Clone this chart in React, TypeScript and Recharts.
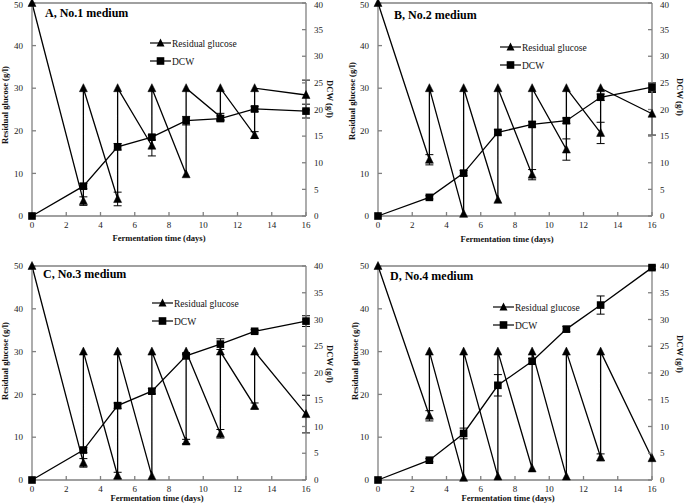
import React from 'react';
import { ComposedChart, Line, XAxis, YAxis, ErrorBar, ReferenceLine, Legend } from 'recharts';

// ---------- data ----------
const dayTicks = [0, 2, 4, 6, 8, 10, 12, 14, 16];
const glucoseTicks = [0, 10, 20, 30, 40, 50];
const dcwTicks = [0, 5, 10, 15, 20, 25, 30, 35, 40];

// glucose is re-fed to 30 g/l at each sampling day (vertical jumps)
const glucoseTimes = [0, 3, 3, 5, 5, 7, 7, 9, 9, 11, 11, 13, 13, 16];
const dcwTimes = [0, 3, 5, 7, 9, 11, 13, 16];

const glucoseA = [50, 3.5, 30, 4, 30, 16.5, 30, 9.8, 30, 23.3, 30, 19, 30, 28.4];
const glucoseErrA = [0, 1, 0, 1.6, 0, 2.4, 0, 0, 0, 0.8, 0, 0.8, 0, 3.5];
const dcwA = [0, 5.6, 13.0, 14.8, 17.9, 18.3, 20.1, 19.7];
const dcwErrA = [0, 0.5, 0.6, 0.5, 0.8, 0.5, 0.5, 1.3];

const glucoseB = [50, 13.2, 30, 0.5, 30, 3.8, 30, 9.7, 30, 15.6, 30, 19.5, 30, 24];
const glucoseErrB = [0, 1.2, 0, 0, 0, 0, 0, 1.2, 0, 2.5, 0, 2.5, 0, 5];
const dcwB = [0, 3.5, 8.05, 15.7, 17.2, 17.9, 22.3, 24.2];
const dcwErrB = [0, 0.3, 0.5, 0.5, 0.5, 0.5, 0.6, 0.8];

const glucoseC = [50, 4, 30, 1, 30, 0.9, 30, 9, 30, 10.8, 30, 17.3, 30, 15.4];
const glucoseErrC = [0, 1, 0, 0.8, 0, 0, 0, 0.5, 0, 1, 0, 0.7, 0, 4.4];
const dcwC = [0, 5.6, 13.9, 16.6, 23.2, 25.4, 27.8, 29.7];
const dcwErrC = [0, 0.5, 0.5, 0.5, 0.5, 1.0, 0.3, 1.0];

const glucoseD = [50, 15, 30, 0.5, 30, 0.8, 30, 2.7, 30, 0.8, 30, 5.3, 30, 5.1];
const glucoseErrD = [0, 1.2, 0, 0, 0, 0, 0, 0, 0, 0, 0, 0.8, 0, 0];
const dcwD = [0, 3.7, 8.7, 17.7, 22.2, 28.2, 32.7, 39.7];
const dcwErrD = [0, 0.3, 1.0, 2.0, 0.5, 0.5, 1.7, 0.3];

const titles = ['A, No.1 medium', 'B, No.2 medium', 'C, No.3 medium', 'D, No.4 medium'];

// ---------- layout ----------
const SERIF = '"Liberation Serif", Tinos, "Times New Roman", Times, "DejaVu Serif", serif';
const AXIS = '#808080';

const panels = [
  { title: titles[0], g: glucoseA, ge: glucoseErrA, d: dcwA, de: dcwErrA,
    left: 0, top: 0, w: 342, h: 250, mt: 3, lw: 32, rw: 36, xh: 34,
    titlePos: [45, 6], legPos: [150, 36],
    yLab: [5, 105], rLab: [330, 99], xLab: [159, 238] },
  { title: titles[1], g: glucoseB, ge: glucoseErrB, d: dcwB, de: dcwErrB,
    left: 342, top: 0, w: 343, h: 250, mt: 3, lw: 36, rw: 33, xh: 34,
    titlePos: [52, 8], legPos: [158, 40],
    yLab: [10, 101], rLab: [338, 97], xLab: [165, 239] },
  { title: titles[2], g: glucoseC, ge: glucoseErrC, d: dcwC, de: dcwErrC,
    left: 0, top: 250, w: 342, h: 254, mt: 16, lw: 32, rw: 36, xh: 24,
    titlePos: [43, 17], legPos: [152, 46],
    yLab: [5, 111], rLab: [330, 114], xLab: [157, 248] },
  { title: titles[3], g: glucoseD, ge: glucoseErrD, d: dcwD, de: dcwErrD,
    left: 342, top: 250, w: 343, h: 254, mt: 16, lw: 36, rw: 33, xh: 24,
    titlePos: [48, 19], legPos: [151, 50],
    yLab: [13, 111], rLab: [338, 104], xLab: [166, 248] },
];

// ---------- markers ----------
const triPath = (cx: number, cy: number, s = 4) =>
  `M${cx},${cy - s - 0.5}L${cx + s},${cy + s - 0.5}L${cx - s},${cy + s - 0.5}Z`;

const TriDot = (props: any) => {
  const { cx, cy, index } = props;
  if (cx == null || cy == null) return <g key={`t${index}`} />;
  return <path key={`t${index}`} d={triPath(cx, cy)} fill="#000" stroke="#000" strokeWidth={0.5} />;
};
const SqDot = (props: any) => {
  const { cx, cy, index } = props;
  if (cx == null || cy == null) return <g key={`s${index}`} />;
  return <rect key={`s${index}`} x={cx - 3.8} y={cy - 3.8} width={7.6} height={7.6} fill="#000" />;
};

const LegendBox = () => (
  <svg width={120} height={30} style={{ display: 'block', overflow: 'visible' }}>
    <line x1={0} y1={7} x2={21} y2={7} stroke="#000" strokeWidth={1.2} />
    <path d={triPath(10.5, 7)} fill="#000" />
    <text x={22} y={10.5} fontSize={9.5} fontFamily={SERIF} fill="#111">Residual glucose</text>
    <line x1={0} y1={25} x2={21} y2={25} stroke="#000" strokeWidth={1.2} />
    <rect x={6.7} y={21.2} width={7.6} height={7.6} fill="#000" />
    <text x={22} y={28.5} fontSize={9.5} fontFamily={SERIF} fill="#111">DCW</text>
  </svg>
);

const tickStyle = { fontSize: 9, fontFamily: SERIF, fill: '#222' };

function Panel({ p }: { p: any }) {
  const gData = glucoseTimes.map((t, i) => ({ t, v: p.g[i], e: p.ge[i] }));
  const dData = dcwTimes.map((t, i) => ({ t, v: p.d[i], e: p.de[i] }));
  const labStyle: React.CSSProperties = {
    position: 'absolute', fontFamily: SERIF, fontWeight: 'bold', fontSize: 8.6,
    whiteSpace: 'nowrap', color: '#111', lineHeight: '10px',
  };
  return (
    <div style={{ position: 'absolute', left: p.left, top: p.top, width: p.w, height: p.h }}>
      <ComposedChart width={p.w} height={p.h} margin={{ top: p.mt, right: 0, left: 0, bottom: 0 }}>
        <XAxis type="number" dataKey="t" domain={[0, 16]} ticks={dayTicks} height={p.xh}
          allowDuplicatedCategory={true}
          stroke={AXIS} strokeWidth={1.3} tickSize={-4} tickMargin={10}
          tick={tickStyle} tickLine={{ stroke: AXIS }} />
        <YAxis yAxisId="left" orientation="left" domain={[0, 50]} ticks={glucoseTicks} width={p.lw}
          stroke={AXIS} strokeWidth={1.3} tickSize={-4} tickMargin={13}
          tick={tickStyle} tickLine={{ stroke: AXIS }} />
        <YAxis yAxisId="right" orientation="right" domain={[0, 40]} ticks={dcwTicks} width={p.rw}
          stroke={AXIS} strokeWidth={1.3} tickSize={-4} tickMargin={12}
          tick={tickStyle} tickLine={{ stroke: AXIS }} />
        <ReferenceLine yAxisId="left" y={50} stroke={AXIS} strokeWidth={1.3} />
        <Legend layout="horizontal" verticalAlign="middle" align="center"
          wrapperStyle={{ left: p.legPos[0], top: p.legPos[1], width: 120, height: 30 }}
          content={() => <LegendBox />} />
        <Line yAxisId="left" data={gData} dataKey="v" name="Residual glucose" type="linear"
          stroke="#000" strokeWidth={1.3} dot={TriDot} activeDot={false} isAnimationActive={false}>
          <ErrorBar dataKey="e" direction="y" width={4} stroke="#000" strokeWidth={1} isAnimationActive={false} />
        </Line>
        <Line yAxisId="right" data={dData} dataKey="v" name="DCW" type="linear"
          stroke="#000" strokeWidth={1.3} dot={SqDot} activeDot={false} isAnimationActive={false}>
          <ErrorBar dataKey="e" direction="y" width={4} stroke="#000" strokeWidth={1} isAnimationActive={false} />
        </Line>
      </ComposedChart>
      <div style={{ position: 'absolute', left: p.titlePos[0], top: p.titlePos[1], fontFamily: SERIF,
        fontWeight: 'bold', fontSize: 12, whiteSpace: 'nowrap', color: '#000', lineHeight: '14px' }}>
        {p.title}
      </div>
      <div style={{ ...labStyle, left: p.yLab[0], top: p.yLab[1], transform: 'translate(-50%,-50%) rotate(-90deg)' }}>
        Residual glucose (g/l)
      </div>
      <div style={{ ...labStyle, left: p.rLab[0], top: p.rLab[1], transform: 'translate(-50%,-50%) rotate(90deg)' }}>
        DCW (g/l)
      </div>
      <div style={{ ...labStyle, left: p.xLab[0], top: p.xLab[1], transform: 'translate(-50%,-50%)' }}>
        Fermentation time (days)
      </div>
    </div>
  );
}

export default function App() {
  return (
    <div style={{ position: 'absolute', left: 0, top: 0, width: 685, height: 504, background: '#fff', overflow: 'hidden' }}>
      {panels.map((p, i) => <Panel key={i} p={p} />)}
    </div>
  );
}
